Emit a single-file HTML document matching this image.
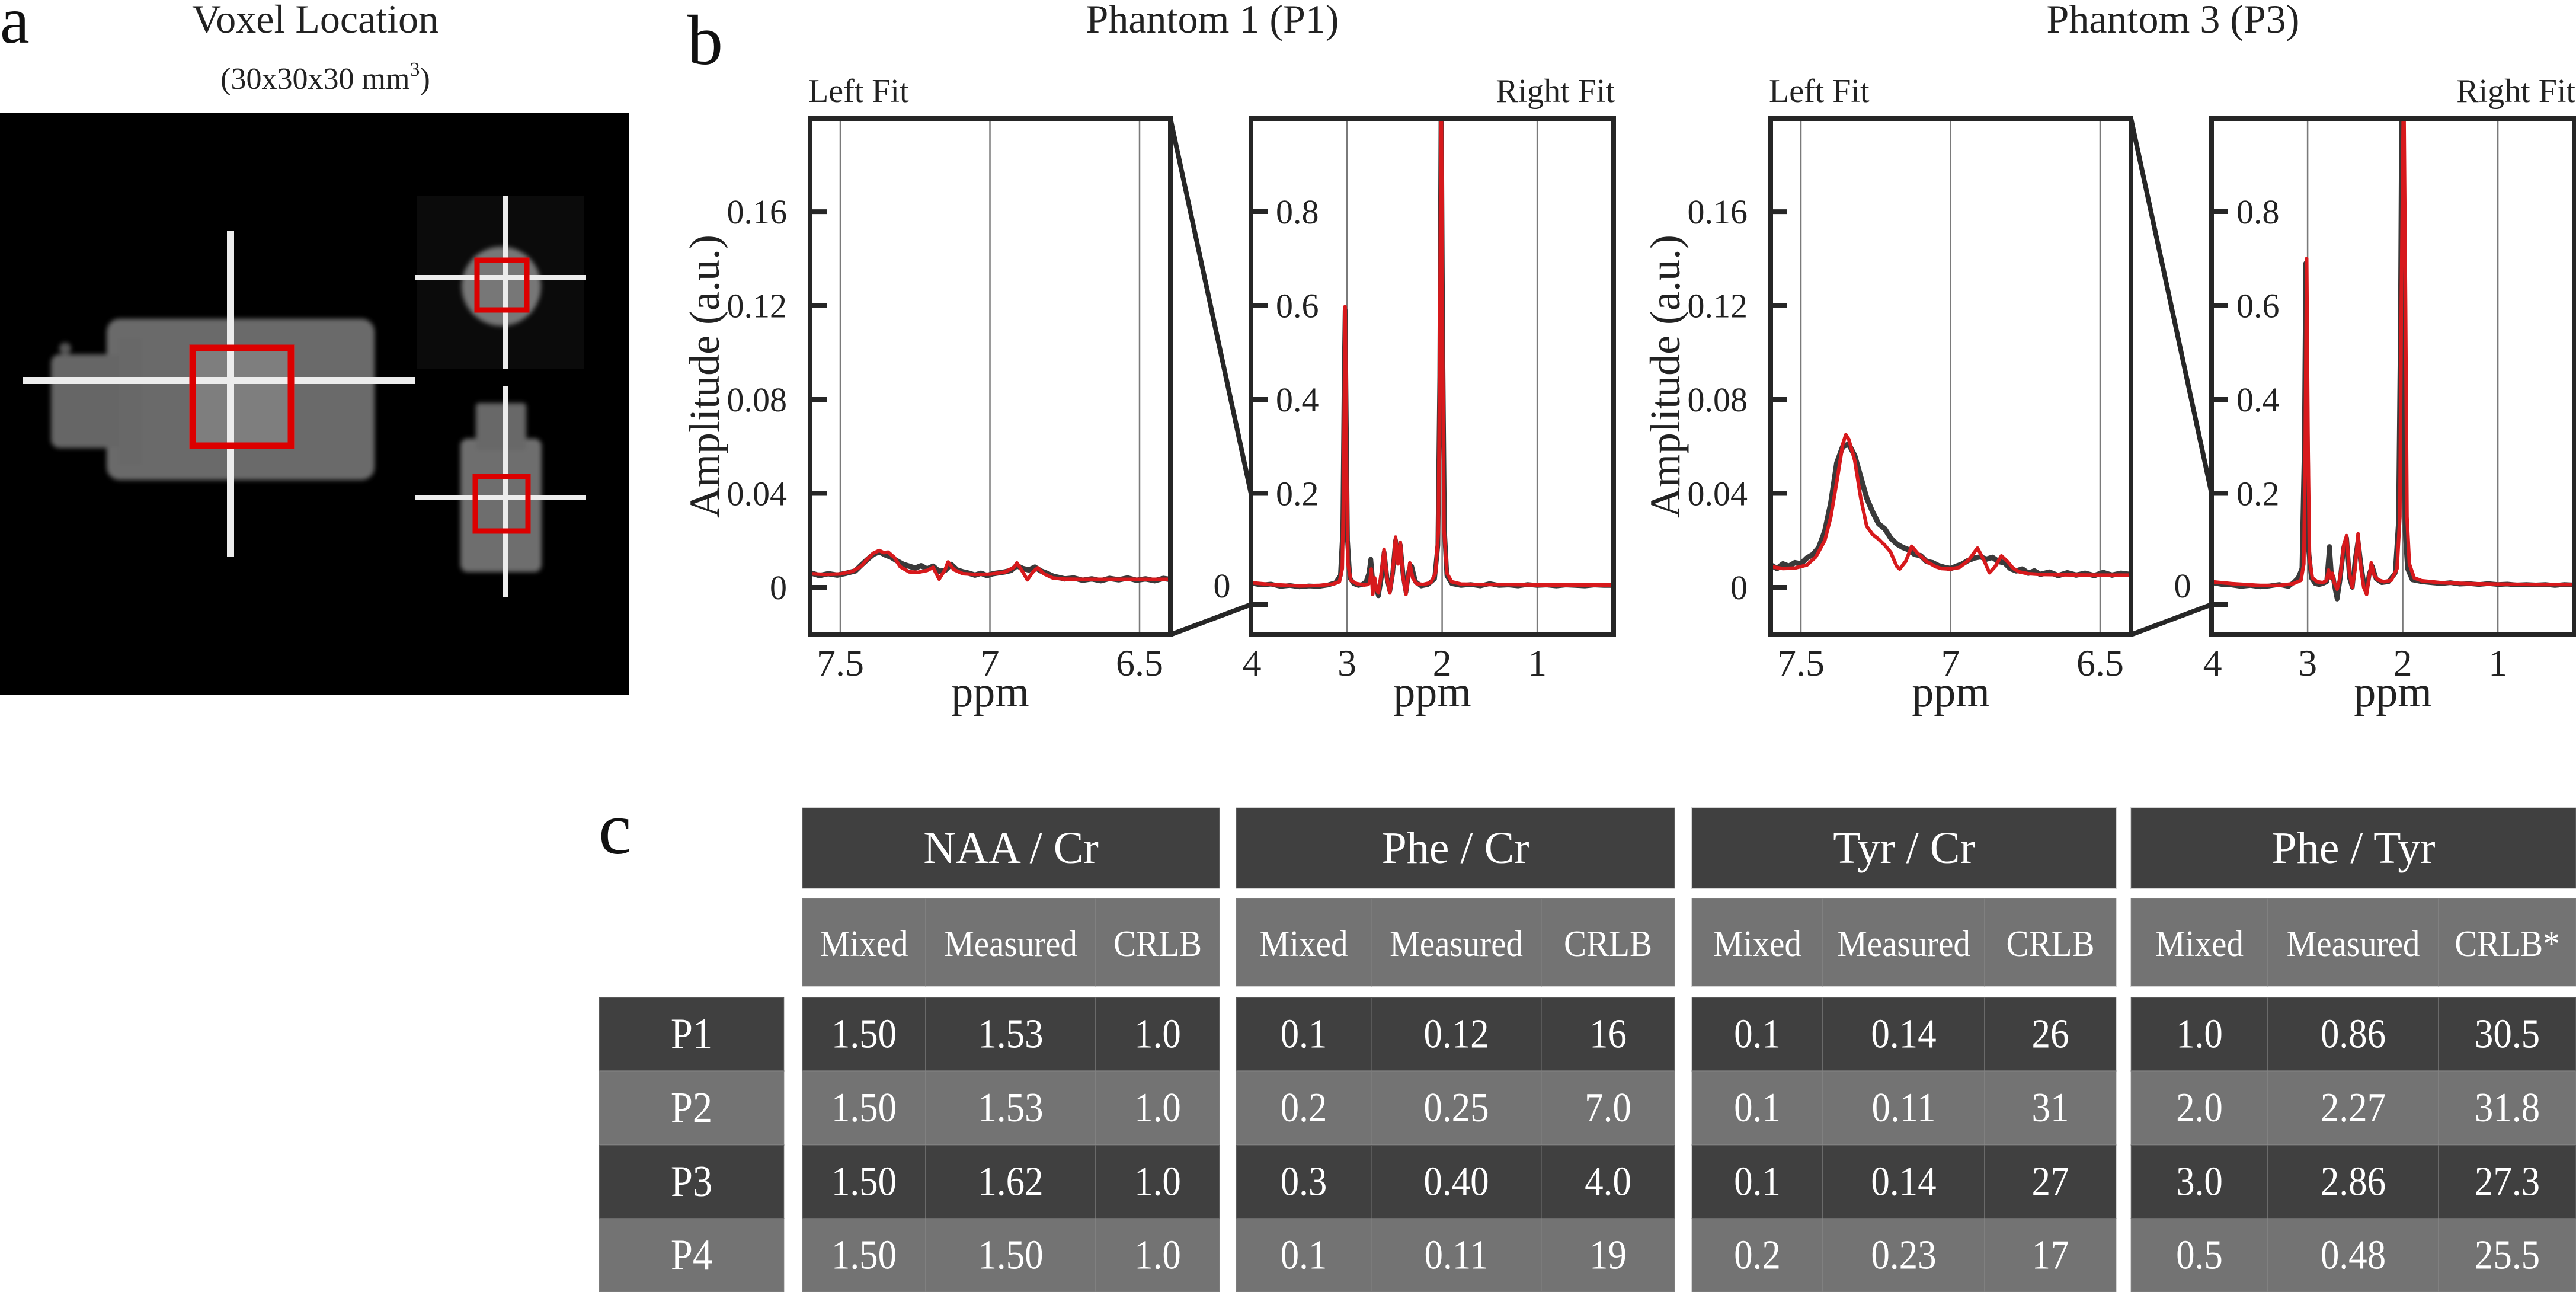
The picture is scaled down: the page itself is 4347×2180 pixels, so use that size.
<!DOCTYPE html>
<html><head><meta charset="utf-8"><style>
html,body{margin:0;padding:0;background:#fff;}
svg{display:block;font-family:"Liberation Serif","Times New Roman",serif;}
svg text{font-family:"Liberation Serif","Times New Roman",serif;}
</style></head>
<body>
<svg id="fig" width="4347" height="2180" viewBox="0 0 4347 2180" xmlns="http://www.w3.org/2000/svg" font-family="Liberation Serif, serif">
<defs>
<filter id="blur" x="-10%" y="-10%" width="120%" height="120%"><feGaussianBlur stdDeviation="4"/></filter>
</defs>
<g>
<text x="0" y="72" font-size="112" fill="#111">a</text>
<text x="532" y="55" font-size="68" text-anchor="middle" fill="#222">Voxel Location</text>
<text x="549" y="150" font-size="52" text-anchor="middle" fill="#222">(30x30x30 mm<tspan dy="-22" font-size="34">3</tspan><tspan dy="22">)</tspan></text>
<rect x="0" y="190" width="1061" height="982" fill="#000"/>
<g filter="url(#blur)">
<rect x="180" y="538" width="452" height="272" rx="22" fill="#6b6b6b"/>
<rect x="86" y="598" width="130" height="158" rx="14" fill="#666"/>
<rect x="200" y="570" width="40" height="215" fill="#686868"/>
<circle cx="110" cy="588" r="10" fill="#555"/>
</g>
<rect x="319" y="582" width="178" height="175" fill="#7e7e7e"/>
<rect x="38" y="636" width="662" height="12" fill="#ececec"/>
<rect x="383" y="389" width="12" height="551" fill="#ececec"/>
<rect x="325" y="587" width="166" height="165" fill="none" stroke="#dc0000" stroke-width="11"/>
<rect x="703" y="331" width="283" height="292" fill="#0b0b0b"/>
<circle cx="846" cy="483" r="67" fill="#777" filter="url(#blur)"/>
<rect x="700" y="464" width="289" height="9" fill="#ececec"/>
<rect x="849" y="331" width="8" height="292" fill="#ececec"/>
<rect x="805" y="439" width="84" height="84" fill="none" stroke="#dc0000" stroke-width="9"/>
<g filter="url(#blur)">
<rect x="777" y="740" width="137" height="225" rx="12" fill="#6e6e6e"/>
<rect x="803" y="680" width="85" height="80" rx="6" fill="#686868"/>
</g>
<rect x="700" y="835" width="289" height="9" fill="#ececec"/>
<rect x="849" y="651" width="8" height="356" fill="#ececec"/>
<rect x="802" y="804" width="89" height="92" fill="none" stroke="#dc0000" stroke-width="9"/>
</g>
<text x="1160" y="108" font-size="120" fill="#111">b</text>
<text x="1010" y="1440" font-size="125" fill="#111">c</text>
<g id="spectra"></g>
<g id="table"></g>
</svg>
<script>
const p1LeftFitPpm = [7.60,7.55,7.50,7.46,7.43,7.41,7.39,7.37,7.355,7.34,7.32,7.30,7.27,7.24,7.21,7.19,7.17,7.15,7.14,7.12,7.09,7.05,7.00,6.95,6.92,6.91,6.89,6.875,6.855,6.84,6.82,6.79,6.75,6.70,6.60,6.50,6.40];
const p1LeftFit = [0.0058,0.0055,0.0057,0.0068,0.0090,0.0120,0.0145,0.0157,0.0148,0.0150,0.0128,0.0088,0.0066,0.0064,0.0072,0.0085,0.0035,0.0075,0.0108,0.0075,0.0058,0.0055,0.0056,0.0065,0.0085,0.0104,0.0065,0.0032,0.0068,0.0083,0.0058,0.0040,0.0035,0.0034,0.0034,0.0034,0.0034];
const p1LeftMeasPpm = [7.60,7.57,7.54,7.51,7.48,7.45,7.43,7.41,7.39,7.37,7.35,7.33,7.31,7.29,7.27,7.25,7.23,7.21,7.19,7.17,7.15,7.13,7.11,7.09,7.07,7.05,7.03,7.01,6.99,6.97,6.95,6.93,6.91,6.89,6.87,6.85,6.83,6.81,6.79,6.77,6.75,6.72,6.69,6.66,6.63,6.60,6.57,6.54,6.51,6.48,6.45,6.42,6.40];
const p1LeftMeas = [0.0062,0.0050,0.0058,0.0052,0.0060,0.0070,0.0095,0.0118,0.0140,0.0152,0.0138,0.0128,0.0112,0.0098,0.0090,0.0082,0.0092,0.0078,0.0090,0.0068,0.0072,0.0098,0.0074,0.0066,0.0060,0.0052,0.0060,0.0050,0.0058,0.0062,0.0066,0.0072,0.0092,0.0080,0.0074,0.0086,0.0070,0.0060,0.0048,0.0042,0.0036,0.0040,0.0030,0.0036,0.0028,0.0038,0.0032,0.0040,0.0030,0.0036,0.0028,0.0038,0.0034];
const p1RightFitPpm = [4.01,3.8,3.5,3.3,3.15,3.08,3.05,3.035,3.02,3.005,2.99,2.96,2.9,2.82,2.78,2.76,2.745,2.73,2.71,2.69,2.67,2.64,2.61,2.58,2.55,2.52,2.49,2.465,2.44,2.41,2.38,2.36,2.34,2.31,2.27,2.2,2.12,2.07,2.04,2.025,2.01,1.995,1.98,1.95,1.9,1.8,1.6,1.3,1.0,0.6,0.195];
const p1RightFit = [0.010,0.006,0.003,0.004,0.007,0.012,0.04,0.22,0.598,0.25,0.05,0.015,0.008,0.005,0.006,0.01,0.039,-0.015,0.02,-0.005,-0.012,0.03,0.081,0.02,-0.012,0.03,0.107,0.05,0.096,0.02,-0.015,0.02,0.052,0.02,0.008,0.006,0.01,0.03,0.12,0.5,1.1,0.5,0.12,0.03,0.012,0.007,0.006,0.006,0.005,0.005,0.005];
const p1RightMeasPpm = [4.01,3.9,3.8,3.7,3.6,3.5,3.4,3.3,3.2,3.12,3.07,3.045,3.03,3.02,3.01,2.995,2.97,2.93,2.88,2.84,2.80,2.77,2.75,2.73,2.71,2.69,2.67,2.64,2.61,2.58,2.55,2.52,2.49,2.465,2.44,2.41,2.38,2.35,2.32,2.28,2.22,2.15,2.08,2.045,2.025,2.01,1.995,1.975,1.95,1.9,1.8,1.7,1.6,1.5,1.4,1.3,1.2,1.1,1.0,0.9,0.8,0.7,0.6,0.5,0.4,0.3,0.195];
const p1RightMeas = [0.009,0.005,0.007,0.002,0.004,0.001,0.003,0.002,0.005,0.010,0.025,0.12,0.45,0.59,0.40,0.10,0.02,0.008,0.004,0.006,0.012,0.03,0.06,0.015,0.01,-0.005,-0.018,0.02,0.075,0.02,-0.008,0.03,0.10,0.06,0.09,0.025,-0.01,0.035,0.045,0.012,0.003,0.006,0.018,0.09,0.45,1.1,0.55,0.12,0.025,0.008,0.004,0.006,0.003,0.008,0.004,0.005,0.003,0.006,0.004,0.005,0.003,0.005,0.004,0.003,0.005,0.004,0.004];
const p3LeftFitPpm = [7.60,7.56,7.52,7.48,7.45,7.42,7.40,7.38,7.36,7.35,7.34,7.32,7.30,7.28,7.26,7.24,7.22,7.20,7.18,7.17,7.15,7.13,7.11,7.08,7.05,7.03,7.00,6.97,6.94,6.92,6.91,6.89,6.87,6.85,6.83,6.81,6.79,6.77,6.74,6.70,6.60,6.50,6.40];
const p3LeftFit = [0.0088,0.0080,0.0082,0.0095,0.0130,0.0200,0.0300,0.0450,0.0610,0.0650,0.0630,0.0540,0.0380,0.0260,0.0225,0.0205,0.0180,0.0150,0.0090,0.0078,0.0110,0.0175,0.0145,0.0110,0.0088,0.0080,0.0078,0.0085,0.0115,0.0150,0.0167,0.0120,0.0062,0.0090,0.0134,0.0110,0.0080,0.0066,0.0058,0.0055,0.0053,0.0052,0.0052];
const p3LeftMeasPpm = [7.60,7.58,7.56,7.54,7.52,7.50,7.48,7.46,7.44,7.42,7.40,7.38,7.36,7.34,7.32,7.30,7.28,7.26,7.24,7.22,7.20,7.18,7.16,7.14,7.12,7.10,7.08,7.06,7.04,7.02,7.00,6.98,6.96,6.94,6.92,6.90,6.88,6.86,6.84,6.82,6.80,6.78,6.76,6.74,6.72,6.70,6.67,6.64,6.61,6.58,6.55,6.52,6.49,6.46,6.43,6.40];
const p3LeftMeas = [0.0095,0.0080,0.0100,0.0090,0.0105,0.0100,0.0125,0.0140,0.0170,0.0240,0.0360,0.0530,0.0600,0.0610,0.0560,0.0470,0.0380,0.0320,0.0270,0.0250,0.0210,0.0185,0.0170,0.0160,0.0140,0.0135,0.0110,0.0105,0.0092,0.0085,0.0080,0.0090,0.0100,0.0115,0.0125,0.0130,0.0120,0.0128,0.0110,0.0105,0.0080,0.0070,0.0078,0.0060,0.0070,0.0055,0.0065,0.0050,0.0062,0.0052,0.0060,0.0050,0.0063,0.0052,0.0060,0.0055];
const p3RightFitPpm = [4.01,3.8,3.5,3.3,3.15,3.07,3.04,3.025,3.01,2.995,2.98,2.95,2.9,2.84,2.80,2.78,2.76,2.74,2.72,2.69,2.66,2.62,2.59,2.56,2.53,2.50,2.47,2.44,2.41,2.38,2.355,2.33,2.30,2.26,2.2,2.12,2.06,2.03,2.015,1.99,1.97,1.955,1.93,1.88,1.8,1.6,1.3,1.0,0.6,0.195];
const p3RightFit = [0.012,0.008,0.004,0.004,0.008,0.015,0.05,0.3,0.70,0.3,0.06,0.02,0.012,0.010,0.015,0.037,0.02,0.03,0.01,-0.004,0.02,0.09,0.11,0.03,0.0,0.04,0.114,0.04,0.0,-0.015,0.02,0.052,0.025,0.016,0.012,0.015,0.04,0.15,0.6,1.1,0.6,0.15,0.05,0.02,0.014,0.010,0.008,0.007,0.006,0.006];
const p3RightMeasPpm = [4.01,3.9,3.8,3.7,3.6,3.5,3.4,3.3,3.2,3.15,3.1,3.06,3.035,3.02,3.005,2.99,2.96,2.92,2.88,2.84,2.80,2.77,2.75,2.73,2.71,2.69,2.66,2.62,2.59,2.56,2.53,2.50,2.47,2.44,2.41,2.38,2.35,2.32,2.28,2.22,2.15,2.08,2.045,2.025,2.01,1.995,1.975,1.95,1.9,1.8,1.7,1.6,1.5,1.4,1.3,1.2,1.1,1.0,0.9,0.8,0.7,0.6,0.5,0.4,0.3,0.195];
const p3RightMeas = [0.010,0.006,0.005,0.002,0.004,0.001,0.003,0.006,0.002,0.010,0.020,0.040,0.30,0.69,0.35,0.08,0.02,0.008,0.006,0.008,0.012,0.087,0.03,0.020,-0.005,-0.025,0.015,0.085,0.105,0.02,0.0,0.06,0.10,0.05,0.01,-0.005,0.030,0.045,0.018,0.010,0.012,0.03,0.14,0.55,1.1,0.55,0.12,0.04,0.016,0.012,0.010,0.008,0.010,0.007,0.008,0.006,0.008,0.006,0.007,0.005,0.006,0.005,0.006,0.004,0.006,0.005];
const leftYTicks = [0, 0.04, 0.08, 0.12, 0.16];
const leftYTickLabels = ["0","0.04","0.08","0.12","0.16"];
const rightYTicks = [0.2, 0.4, 0.6, 0.8];
const rightYTickLabels = ["0.2","0.4","0.6","0.8"];
const leftXTicks = [7.5, 7, 6.5];
const leftXTickLabels = ["7.5","7","6.5"];
const rightXTicks = [4, 3, 2, 1];
const rightXTickLabels = ["4","3","2","1"];
const phantomTitles = ["Phantom 1 (P1)", "Phantom 3 (P3)"];

const groupTitles = ["NAA / Cr", "Phe / Cr", "Tyr / Cr", "Phe / Tyr"];
const subTitles = [["Mixed","Measured","CRLB"],["Mixed","Measured","CRLB"],["Mixed","Measured","CRLB"],["Mixed","Measured","CRLB*"]];
const rowLabels = ["P1","P2","P3","P4"];
const naaCr = [["1.50","1.53","1.0"],["1.50","1.53","1.0"],["1.50","1.62","1.0"],["1.50","1.50","1.0"]];
const pheCr = [["0.1","0.12","16"],["0.2","0.25","7.0"],["0.3","0.40","4.0"],["0.1","0.11","19"]];
const tyrCr = [["0.1","0.14","26"],["0.1","0.11","31"],["0.1","0.14","27"],["0.2","0.23","17"]];
const pheTyr = [["1.0","0.86","30.5"],["2.0","2.27","31.8"],["3.0","2.86","27.3"],["0.5","0.48","25.5"]];

const NS = "http://www.w3.org/2000/svg";
const FONT = "Liberation Serif, Times New Roman, serif";
function mk(tag, attrs, parent){ const e=document.createElementNS(NS,tag); for(const k in attrs) e.setAttribute(k,attrs[k]); parent.appendChild(e); return e; }

const L = {x0:1367, x1:1975, y0:200, y1:1071};
const R = {x0:2111, x1:2723};
const Y0 = 991;
function leftX(p,dx){ return L.x0 + dx + (7.601 - p)*505; }
function rightX(p,dx){ return R.x0 + dx + (4.01 - p)*160.5; }
function leftY(a){ return Y0 - a*3962; }
function rightY(a){ return Y0 - a*792.5; }

const spec = document.getElementById('spectra');
const panels = [
 {dx:0, lf:[p1LeftFitPpm,p1LeftFit], lm:[p1LeftMeasPpm,p1LeftMeas], rf:[p1RightFitPpm,p1RightFit], rm:[p1RightMeasPpm,p1RightMeas], id:'p1'},
 {dx:1621, lf:[p3LeftFitPpm,p3LeftFit], lm:[p3LeftMeasPpm,p3LeftMeas], rf:[p3RightFitPpm,p3RightFit], rm:[p3RightMeasPpm,p3RightMeas], id:'p3'}
];
function line(parent, ppm, vals, fx, fy, dx, color, w, name){
  const n=Math.min(ppm.length, vals.length); let pts=[];
  for(let i=0;i<n;i++) pts.push(fx(ppm[i],dx).toFixed(1)+','+fy(vals[i]).toFixed(1));
  const pl=mk('polyline',{points:pts.join(' '),fill:'none',stroke:color,'stroke-width':w,'stroke-linejoin':'round','stroke-linecap':'round'},parent);
  
  
}
function txt(parent, x, y, s, size, anchor, name, extra){
  const t=mk('text',Object.assign({x:x,y:y,'font-size':size,'font-family':FONT,'text-anchor':anchor||'start',fill:'#222'},extra||{}),parent);
  t.textContent=s;
  
  
  return t;
}
panels.forEach((P,pi)=>{
  const dx=P.dx;
  const g=mk('g',{},spec);
  
  
  txt(g, 2046+dx, 55, phantomTitles[pi], 68, 'middle', 'phantom-title');
  txt(g, L.x0+dx-3, 172, 'Left Fit', 56, 'start', 'left-fit-title');
  txt(g, R.x1+dx+2, 172, 'Right Fit', 56, 'end', 'right-fit-title');
  txt(g, 0, 0, 'Amplitude (a.u.)', 72, 'middle', 'y-axis-title', {transform:'translate('+(1213+dx)+',635) rotate(-90)'});
  const defs=mk('defs',{},g);
  const cl=mk('clipPath',{id:'cl'+pi},defs); mk('rect',{x:L.x0+dx,y:L.y0,width:L.x1-L.x0,height:L.y1-L.y0},cl);
  const cr=mk('clipPath',{id:'cr'+pi},defs); mk('rect',{x:R.x0+dx,y:L.y0,width:R.x1-R.x0,height:L.y1-L.y0},cr);
  leftXTicks.forEach((t,i)=>{ const x=leftX(t,dx); const l=mk('line',{x1:x,x2:x,y1:L.y0,y2:L.y1,stroke:'#7a7a7a','stroke-width':2.5},g);  
    txt(g, x, 1140, leftXTickLabels[i], 64, 'middle', 'left-x-tick-label'); });
  rightXTicks.forEach((t,i)=>{ const x=rightX(t,dx); if(i>0){ const l=mk('line',{x1:x,x2:x,y1:L.y0,y2:L.y1,stroke:'#7a7a7a','stroke-width':2.5},g);   }
    txt(g, x, 1140, rightXTickLabels[i], 64, 'middle', 'right-x-tick-label'); });
  txt(g, (L.x0+L.x1)/2+dx, 1192, 'ppm', 74, 'middle', 'left-x-axis-title');
  txt(g, (R.x0+R.x1)/2+dx, 1192, 'ppm', 74, 'middle', 'right-x-axis-title');
  leftYTicks.forEach((t,i)=>{ const y=leftY(t); const l=mk('line',{x1:L.x0+dx,x2:L.x0+dx+28,y1:y,y2:y,stroke:'#262626','stroke-width':8},g);  
    txt(g, L.x0+dx-39, y+20, leftYTickLabels[i], 58, 'end', 'left-y-tick-label'); });
  rightYTicks.forEach((t,i)=>{ const y=rightY(t); const l=mk('line',{x1:R.x0+dx,x2:R.x0+dx+28,y1:y,y2:y,stroke:'#262626','stroke-width':8},g);  
    txt(g, R.x0+dx+42, y+20, rightYTickLabels[i], 58, 'start', 'right-y-tick-label'); });
  const t0=mk('line',{x1:R.x0+dx,x2:R.x0+dx+28,y1:1020,y2:1020,stroke:'#262626','stroke-width':8},g);  
  txt(g, 2062+dx, 1008, '0', 58, 'middle', 'right-zero-label');
  const sl=mk('g',{'clip-path':'url(#cl'+pi+')'},g);
  line(sl, P.lm[0], P.lm[1], leftX, leftY, dx, '#3a3a3a', 9, 'left-measured-spectrum');
  line(sl, P.lf[0], P.lf[1], leftX, leftY, dx, '#d7191c', 6, 'left-fit-spectrum');
  const sr=mk('g',{'clip-path':'url(#cr'+pi+')'},g);
  line(sr, P.rm[0], P.rm[1], rightX, rightY, dx, '#3a3a3a', 8, 'right-measured-spectrum');
  line(sr, P.rf[0], P.rf[1], rightX, rightY, dx, '#d7191c', 6, 'right-fit-spectrum');
  const f1=mk('rect',{x:L.x0+dx,y:L.y0,width:L.x1-L.x0,height:L.y1-L.y0,fill:'none',stroke:'#262626','stroke-width':8},g);  
  const f2=mk('rect',{x:R.x0+dx,y:L.y0,width:R.x1-R.x0,height:L.y1-L.y0,fill:'none',stroke:'#262626','stroke-width':8},g);  
  const c1=mk('line',{x1:L.x1+dx,y1:L.y0,x2:R.x0+dx,y2:rightY(0.2),stroke:'#262626','stroke-width':8},g);  
  const c2=mk('line',{x1:L.x1+dx,y1:L.y1,x2:R.x0+dx,y2:1020,stroke:'#262626','stroke-width':8},g);  
});

const tb=document.getElementById('table');
const groups=[[1354,1562,1849,2058],[2086,2314,2601,2826],[2855,3076,3349,3571],[3596,3827,4115,4347]];
const groupData=[naaCr,pheCr,tyrCr,pheTyr];
const rowY=[1683,1807,1932,2056,2180];
const DARK='#404040', LIGHT='#737373';
function cellText(x,y,s,size,name,sx){
  const t=mk('text',{x:0,y:0,'font-size':size,'font-family':FONT,'text-anchor':'middle',fill:'#fff','dominant-baseline':'central',transform:'translate('+x+','+y+') scale('+(sx||1)+',1)'},tb);
  t.textContent=s;
  
  
}
function rect(x,y,w,h,fill,name){
  const r=mk('rect',{x:x,y:y,width:w,height:h,fill:fill,stroke:'#8a8a8a','stroke-opacity':0.35,'stroke-width':2},tb);
  
  
}
groups.forEach((c,gi)=>{
  rect(c[0],1363,c[3]-c[0],136,DARK,'group-header');
  cellText((c[0]+c[3])/2,1431,groupTitles[gi],76,'group-header-text');
  for(let j=0;j<3;j++){
    rect(c[j],1516,c[j+1]-c[j],148,LIGHT,'subheader-cell');
    cellText((c[j]+c[j+1])/2,1592,subTitles[gi][j],62,'subheader-text',0.92);
  }
  for(let r=0;r<4;r++){
    for(let j=0;j<3;j++){
      rect(c[j],rowY[r],c[j+1]-c[j],rowY[r+1]-rowY[r],r%2?LIGHT:DARK,'value-cell');
      cellText((c[j]+c[j+1])/2,(rowY[r]+rowY[r+1])/2,groupData[gi][r][j],70,'value-text',0.9);
    }
  }
});
rowLabels.forEach((s,r)=>{
  rect(1011,rowY[r],312,rowY[r+1]-rowY[r],r%2?LIGHT:DARK,'row-label-cell');
  cellText(1167,(rowY[r]+rowY[r+1])/2,s,74,'row-label-text',0.9);
});
</script>
</body></html>
